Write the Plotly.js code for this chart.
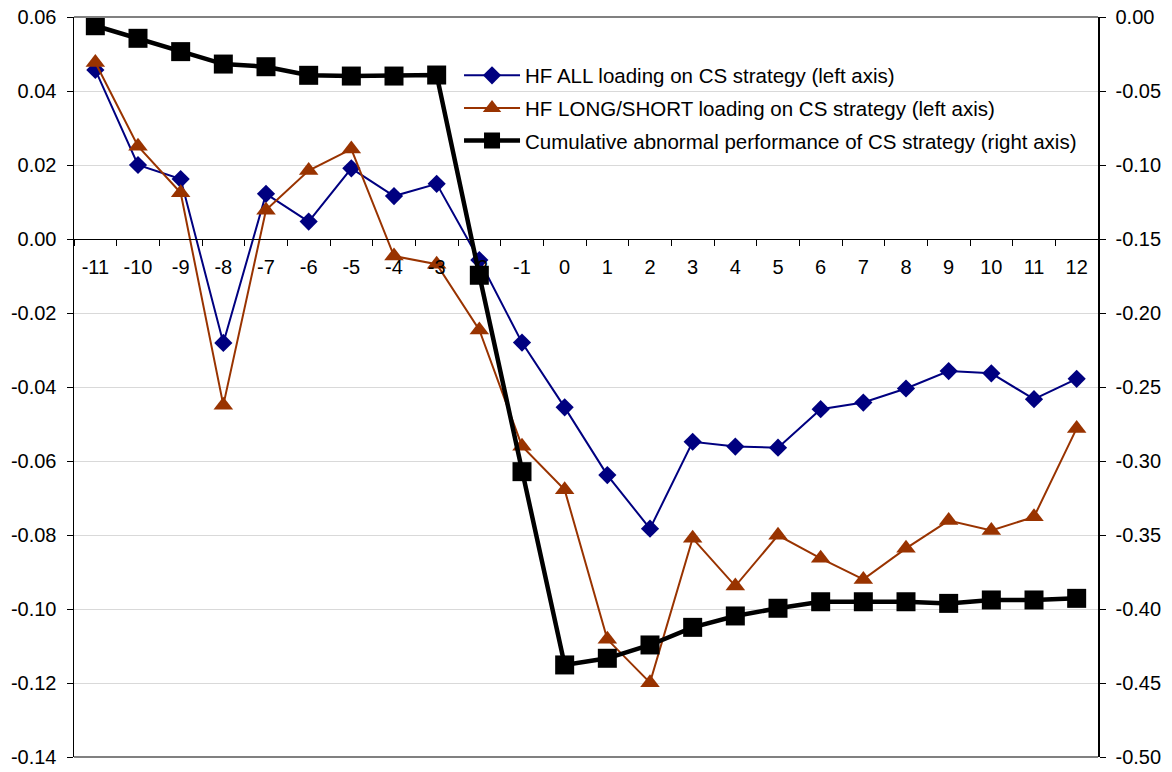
<!DOCTYPE html>
<html>
<head>
<meta charset="utf-8">
<script src="https://cdn.plot.ly/plotly-3.0.1.min.js"></script>
<style>html,body{margin:0;padding:0;background:#fff;}#chart{width:1172px;height:772px;}</style>
</head>
<body>
<div id="chart"></div>
<script>
// Event months (categories)
const months = ['-11','-10','-9','-8','-7','-6','-5','-4','-3','-2','-1','0','1','2','3','4','5','6','7','8','9','10','11','12'];

// HF ALL loading on CS strategy (left axis)
const hfAll = [0.0457, 0.0200, 0.0162, -0.0281, 0.0122, 0.0047, 0.0191, 0.0116, 0.0149, -0.0057, -0.0280, -0.0455,
               -0.0638, -0.0783, -0.0548, -0.0561, -0.0564, -0.0460, -0.0442, -0.0404, -0.0357, -0.0363, -0.0433, -0.0378];

// HF LONG/SHORT loading on CS strategy (left axis)
const hfLongShort = [0.0477, 0.0251, 0.0125, -0.0449, 0.0078, 0.0185, 0.0243, -0.0046, -0.0068, -0.0246, -0.0560, -0.0678,
                     -0.1082, -0.1199, -0.0809, -0.0938, -0.0801, -0.0863, -0.0920, -0.0836, -0.0761, -0.0788, -0.0751, -0.0512];

// Cumulative abnormal performance of CS strategy (right axis)
const cumPerf = [-0.0059, -0.0144, -0.0234, -0.0318, -0.0336, -0.0394, -0.0399, -0.0399, -0.0392, -0.1745, -0.3072, -0.4378,
                 -0.4333, -0.4243, -0.4124, -0.4047, -0.3995, -0.3951, -0.3951, -0.3951, -0.3962, -0.3939, -0.3939, -0.3928];

// Axis ticks
const leftTickVals = [0.06, 0.04, 0.02, 0.00, -0.02, -0.04, -0.06, -0.08, -0.10, -0.12, -0.14];
const leftTickText = ['0.06','0.04','0.02','0.00','-0.02','-0.04','-0.06','-0.08','-0.10','-0.12','-0.14'];
const rightTickVals = [0.00, -0.05, -0.10, -0.15, -0.20, -0.25, -0.30, -0.35, -0.40, -0.45, -0.50];
const rightTickText = ['0.00','-0.05','-0.10','-0.15','-0.20','-0.25','-0.30','-0.35','-0.40','-0.45','-0.50'];

const seriesNames = [
  'HF ALL loading on CS strategy (left axis)',
  'HF LONG/SHORT loading on CS strategy (left axis)',
  'Cumulative abnormal performance of CS strategy (right axis)'
];

const FONT = 'Liberation Sans, Arial, sans-serif';

const traces = [
  {
    x: months, y: hfAll, name: seriesNames[0], type: 'scatter', mode: 'lines+markers',
    line: {color: '#000080', width: 2},
    marker: {symbol: 'diamond', size: 14, color: '#000080'},
    legendgroup: 'a', yaxis: 'y'
  },
  {
    x: months, y: hfLongShort, name: seriesNames[1], type: 'scatter', mode: 'lines+markers',
    line: {color: '#993300', width: 2},
    marker: {symbol: 'triangle-up', size: 17, color: '#993300'},
    legendgroup: 'b', yaxis: 'y'
  },
  {
    x: months, y: cumPerf, name: seriesNames[2], type: 'scatter', mode: 'lines+markers',
    line: {color: '#000000', width: 4.5},
    marker: {symbol: 'square', size: 19, color: '#000000'},
    legendgroup: 'c', yaxis: 'y2'
  }
];

const layout = {
  width: 1172, height: 772,
  margin: {l: 74, r: 74, t: 17, b: 15, pad: 0},
  paper_bgcolor: '#ffffff', plot_bgcolor: '#ffffff',
  font: {family: FONT, size: 20, color: '#000'},
  showlegend: true,
  legend: {
    x: 0.376, y: 0.948, xanchor: 'left', yanchor: 'top',
    bgcolor: 'rgba(0,0,0,0)', borderwidth: 0,
    font: {family: FONT, size: 20.5, color: '#000'},
    traceorder: 'grouped', tracegroupgap: 3, itemwidth: 56
  },
  xaxis: {
    type: 'category', categoryorder: 'array', categoryarray: months,
    range: [-0.5, 23.5], autorange: false,
    anchor: 'free', position: 0.7,
    showline: true, linecolor: '#000', linewidth: 1,
    ticks: 'outside', ticklen: 6, tickcolor: '#000', tickwidth: 1,
    tickson: 'boundaries', showgrid: false, zeroline: false,
    tickfont: {family: FONT, size: 20, color: '#000'},
    ticklabelstandoff: 10
  },
  yaxis: {
    range: [-0.14, 0.06], autorange: false, tickvals: leftTickVals, ticktext: leftTickText,
    showgrid: true, gridcolor: '#d9d9d9', gridwidth: 1, zeroline: false,
    showline: true, linecolor: '#000', linewidth: 1.5,
    ticks: 'outside', ticklen: 6, tickcolor: '#000',
    tickfont: {family: FONT, size: 20, color: '#000'},
    ticklabelstandoff: 6
  },
  yaxis2: {
    range: [-0.5, 0.0], autorange: false, tickvals: rightTickVals, ticktext: rightTickText,
    overlaying: 'y', side: 'right', anchor: 'x',
    showgrid: false, zeroline: false,
    showline: true, linecolor: '#000', linewidth: 1.5,
    ticks: 'outside', ticklen: 6, tickcolor: '#000',
    tickfont: {family: FONT, size: 20, color: '#000'},
    ticklabelstandoff: 6
  },
  shapes: [
    {type: 'line', xref: 'paper', yref: 'paper', x0: 0, x1: 1, y0: 1, y1: 1, line: {color: '#808080', width: 2}},
    {type: 'line', xref: 'paper', yref: 'paper', x0: 0, x1: 1, y0: 0, y1: 0, line: {color: '#808080', width: 2}}
  ]
};

Plotly.newPlot('chart', traces, layout, {displayModeBar: false, staticPlot: true});
</script>
</body>
</html>
